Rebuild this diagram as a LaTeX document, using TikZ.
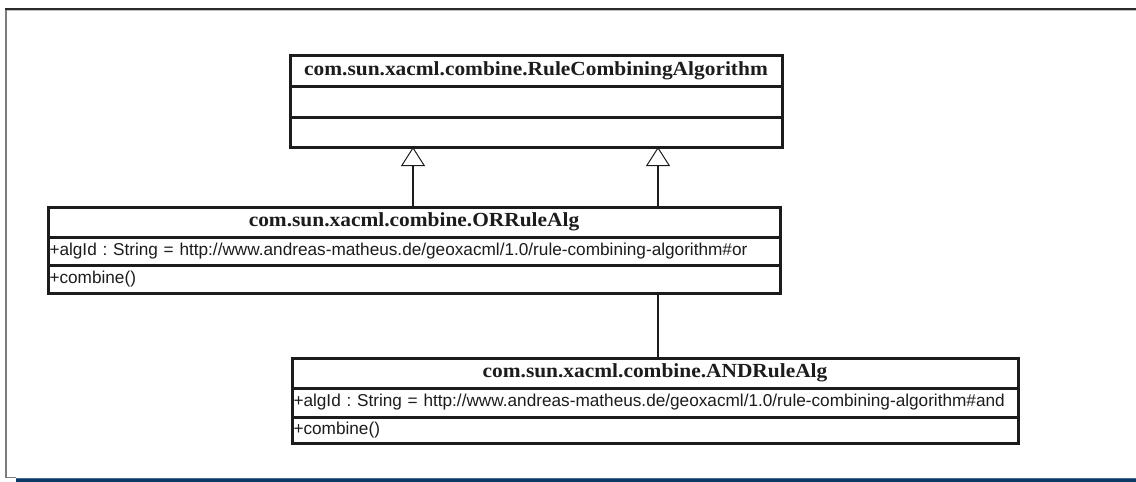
\documentclass[tikz,border=0pt]{standalone}
\usepackage{fontspec}
\setmainfont{Liberation Serif}
\setsansfont{Liberation Sans}
\newfontfamily\classtitlefont[FakeStretch=1.07]{Liberation Serif}
\usetikzlibrary{arrows.meta,backgrounds}
\definecolor{ink}{HTML}{1C1C1C}
\definecolor{framedark}{HTML}{2A2A2A}
\definecolor{framegray}{HTML}{7C7C7C}
\definecolor{navy}{HTML}{0C3963}
\definecolor{navylight}{HTML}{3F6C98}
\frenchspacing

\begin{document}
\begin{tikzpicture}[x=1pt,y=-1pt,
  compartment/.style={draw=ink, line width=3pt, fill=white, anchor=north west,
    outer sep=0pt, inner sep=0pt},
  titlebox/.style={compartment, text=ink,
    font=\classtitlefont\bfseries\fontsize{20}{23}\selectfont},
  membox/.style={compartment, text=ink, align=left, inner xsep=1.5pt,
    font=\sffamily\fontsize{17.2}{20}\selectfont},
  gen/.style={draw=ink, line width=1.5pt,
    -{Triangle[open, length=19pt, width=24pt, line width=1pt]}}
]
\useasboundingbox (0,0) rectangle (1136,482);

% page frame
\draw[framegray, line width=2pt] (5.5,478) -- (5.5,9.5);
\draw[framedark, line width=1.8pt] (5,9.3) -- (1136,9.3);
\draw[black!25, line width=0.8pt] (6.5,10.8) -- (1136,10.8);
\draw[framegray, line width=1pt] (5,477.8) -- (16,477.8);
\fill[navy] (16,478) rectangle (1136,482);
\draw[navylight, line width=0.8pt] (16,478) -- (1136,478);

% RuleCombiningAlgorithm
\node[titlebox, minimum width=492pt, minimum height=31pt] (rcatitle) at (290,55)
  {com.sun.xacml.combine.RuleCombiningAlgorithm};
\node[compartment, minimum width=492pt, minimum height=31pt] (rcaattr) at (290,86) {};
\node[compartment, minimum width=492pt, minimum height=30pt] (rcaops) at (290,117) {};

% ORRuleAlg
\node[titlebox, minimum width=732pt, minimum height=30pt] (ortitle) at (48,207)
  {com.sun.xacml.combine.ORRuleAlg};
\node[membox, text width=729pt, minimum height=28pt] (orattr) at (48,237)
  {+algId : String = http://www.andreas-matheus.de/geoxacml/1.0/rule-combining-algorithm\#or};
\node[membox, text width=729pt, minimum height=28pt] (orops) at (48,265)
  {+combine()};

% ANDRuleAlg
\node[titlebox, minimum width=726pt, minimum height=30pt] (andtitle) at (292,358)
  {com.sun.xacml.combine.ANDRuleAlg};
\node[membox, text width=723pt, minimum height=29pt] (andattr) at (292,388)
  {+algId : String = http://www.andreas-matheus.de/geoxacml/1.0/rule-combining-algorithm\#and};
\node[membox, text width=723pt, minimum height=26pt] (andops) at (292,417)
  {+combine()};

% generalizations (the AND link passes behind the OR class)
\begin{scope}[on background layer]
  \draw[gen] ([xshift=365pt]ortitle.north west)
    -- ([xshift=365pt]ortitle.north west |- rcaops.south);
  \draw[gen] ([xshift=366pt]andtitle.north west)
    -- ([xshift=366pt]andtitle.north west |- rcaops.south);
\end{scope}
\end{tikzpicture}
\end{document}
